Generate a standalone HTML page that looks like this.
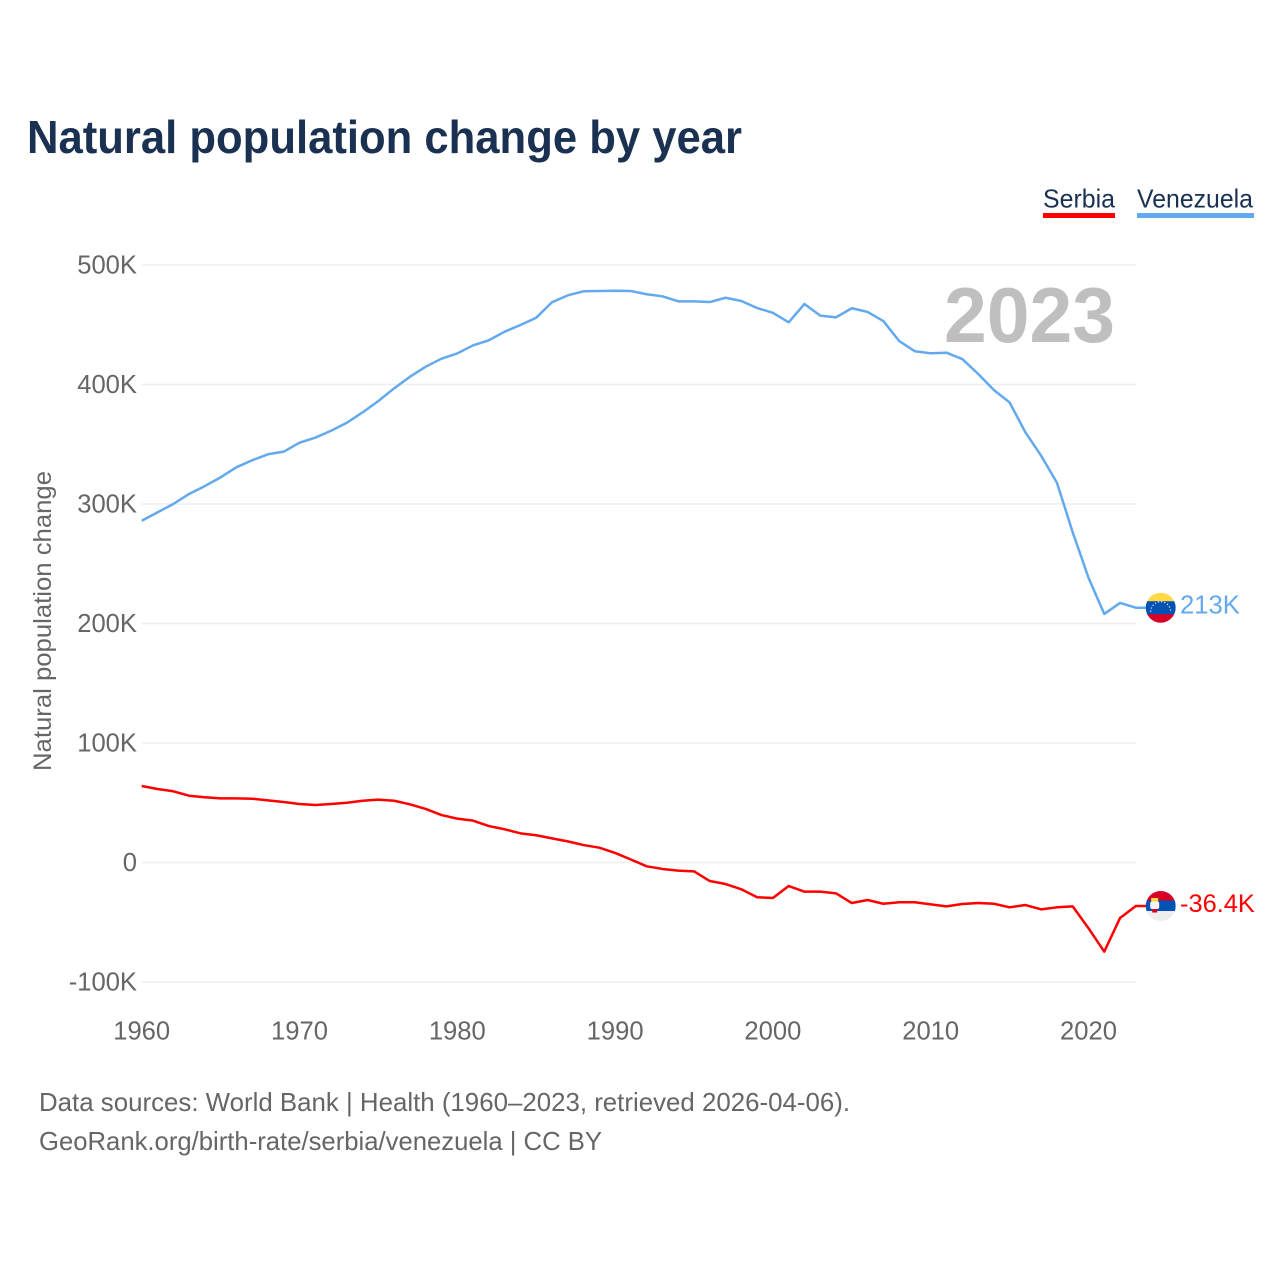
<!DOCTYPE html>
<html lang="en">
<head>
<meta charset="utf-8">
<title>Natural population change by year</title>
<style>
html,body{margin:0;padding:0;background:#fff;}
svg{display:block;font-family:"Liberation Sans",sans-serif;}
</style>
</head>
<body>
<svg id="chart" xmlns="http://www.w3.org/2000/svg" width="1280" height="1280" viewBox="0 0 1280 1280">
  <rect x="0" y="0" width="1280" height="1280" fill="#ffffff"/>
  <text x="27" y="153" font-size="46" font-weight="700" fill="#1a3152" textLength="715" lengthAdjust="spacingAndGlyphs">Natural population change by year</text>
  <g id="grid"></g>
  <g id="yticks"></g>
  <g id="xticks"></g>
  <text transform="translate(51 621) rotate(-90)" text-anchor="middle" font-size="25" fill="#666666" textLength="300" lengthAdjust="spacingAndGlyphs">Natural population change</text>
  <text x="944" y="342" font-size="78" font-weight="700" fill="#bfbfbf" textLength="171" lengthAdjust="spacingAndGlyphs">2023</text>
  <g id="series"></g>

  <g>
    <text x="1043" y="207.5" font-size="26" fill="#1a3152" textLength="72" lengthAdjust="spacingAndGlyphs">Serbia</text>
    <rect x="1043" y="213" width="72" height="5" fill="#ff0000"/>
  </g>
  <g>
    <text x="1137" y="207.5" font-size="26" fill="#1a3152" textLength="116" lengthAdjust="spacingAndGlyphs">Venezuela</text>
    <rect x="1137" y="213" width="117" height="5" fill="#63a9ee"/>
  </g>

  <defs>
    <clipPath id="flag-clip"><circle cx="0" cy="0" r="15"/></clipPath>
  </defs>
  <g id="flag-venezuela">
    <g clip-path="url(#flag-clip)">
      <rect x="-15" y="-15" width="30" height="9" fill="#ffda44"/>
      <rect x="-15" y="-6.5" width="30" height="13.5" fill="#0052b4"/>
      <rect x="-15" y="6.5" width="30" height="9" fill="#d80027"/>
      <path d="M-10 4 A10 10 0 0 1 10 4" fill="none" stroke="#f0f0f0" stroke-width="1.2" stroke-dasharray="1.2 2"/>
    </g>
  </g>
  <text id="label-venezuela" font-size="25.6" fill="#63a9ee"></text>
  <g id="flag-serbia">
    <g clip-path="url(#flag-clip)">
      <rect x="-15" y="-16" width="30" height="11" fill="#d80027"/>
      <rect x="-15" y="-5.5" width="30" height="11" fill="#0052b4"/>
      <rect x="-15" y="5" width="30" height="11" fill="#eeeeee"/>
      <rect x="-9.5" y="-8" width="7" height="3.5" fill="#ffda44"/>
      <rect x="-10.5" y="-4.5" width="9" height="7.5" rx="2" fill="#f5f5f5"/>
      <rect x="-8.5" y="3" width="5" height="3.5" fill="#d80027"/>
    </g>
  </g>
  <text id="label-serbia" font-size="25.4" fill="#ff0000"></text>

  <text x="39" y="1111" font-size="26" fill="#666666" textLength="811" lengthAdjust="spacingAndGlyphs">Data sources: World Bank | Health (1960–2023, retrieved 2026-04-06).</text>
  <text x="39" y="1150" font-size="26" fill="#666666" textLength="563" lengthAdjust="spacingAndGlyphs">GeoRank.org/birth-rate/serbia/venezuela | CC BY</text>
</svg>
<script>
const firstYear = 1960;
const xTickYears = [1960, 1970, 1980, 1990, 2000, 2010, 2020];
const yTickValues = [-100, 0, 100, 200, 300, 400, 500];
const yTickLabels = ['-100K', '0', '100K', '200K', '300K', '400K', '500K'];
const venezuelaValues = [
  286.0, 293.0, 300.0, 308.4, 315.0, 322.3, 330.7, 336.6, 341.6, 343.8,
  351.3, 355.5, 361.3, 368.0, 376.7, 386.2, 396.8, 406.5, 414.9, 421.6,
  426.0, 432.8, 437.0, 444.2, 449.8, 455.9, 468.8, 474.6, 478.0, 478.2,
  478.5, 478.2, 475.5, 473.8, 469.6, 469.6, 469.0, 472.6, 469.9, 464.0,
  460.0, 452.0, 467.4, 457.6, 456.2, 463.8, 460.7, 453.1, 436.4, 427.8,
  426.1, 426.6, 421.3, 409.0, 395.4, 385.0, 360.0, 340.4, 317.8, 276.3,
  238.3, 208.0, 217.2, 213.2
];
const serbiaValues = [
  64.0, 61.5, 59.6, 55.9, 54.6, 53.7, 53.7, 53.4, 52.0, 50.6,
  49.0, 48.1, 49.0, 50.0, 51.7, 52.6, 51.7, 48.7, 44.8, 39.7,
  36.7, 35.0, 30.5, 27.8, 24.4, 22.8, 20.2, 17.7, 14.6, 12.4,
  8.0, 2.5, -3.2, -5.4, -6.8, -7.4, -15.5, -18.0, -22.4, -29.1,
  -29.7, -19.7, -24.4, -24.4, -25.8, -33.9, -31.4, -34.5, -33.3, -33.3,
  -35.0, -36.7, -34.7, -33.9, -34.5, -37.5, -35.6, -39.2, -37.5, -36.7,
  -55.0, -74.6, -46.4, -36.4
];
const venezuelaEndLabel = '213K';
const serbiaEndLabel = '-36.4K';

const NS = 'http://www.w3.org/2000/svg';
const plotLeft = 141.7, pxPerYear = 15.78, zeroY = 862.5, pxPerK = 1.195, plotRight = 1136;
function xScale(year) { return plotLeft + (year - firstYear) * pxPerYear; }
function yScale(value) { return zeroY - value * pxPerK; }
function make(tag) { return document.createElementNS(NS, tag); }

const grid = document.getElementById('grid');
const yticks = document.getElementById('yticks');
yTickValues.forEach(function (v, i) {
  const line = make('line');
  
  
  line.setAttribute('x1', plotLeft);
  line.setAttribute('x2', plotRight);
  line.setAttribute('y1', yScale(v));
  line.setAttribute('y2', yScale(v));
  line.setAttribute('stroke', '#eeeeee');
  line.setAttribute('stroke-width', '1.4');
  grid.appendChild(line);
  const t = make('text');
  
  
  t.setAttribute('x', 137);
  t.setAttribute('y', yScale(v) + 8.5);
  t.setAttribute('text-anchor', 'end');
  t.setAttribute('font-size', '25.6');
  t.setAttribute('fill', '#666666');
  t.textContent = yTickLabels[i];
  yticks.appendChild(t);
});

const xticks = document.getElementById('xticks');
xTickYears.forEach(function (year) {
  const t = make('text');
  
  
  t.setAttribute('x', xScale(year));
  t.setAttribute('y', 1039.5);
  t.setAttribute('text-anchor', 'middle');
  t.setAttribute('font-size', '25.6');
  t.setAttribute('fill', '#666666');
  t.textContent = String(year);
  xticks.appendChild(t);
});

const seriesGroup = document.getElementById('series');
function drawSeries(values, colour, seriesName) {
  const pts = values.map(function (v, i) { return xScale(firstYear + i).toFixed(2) + ',' + yScale(v).toFixed(2); });
  const last = values[values.length - 1];
  pts.push((plotRight + 10) + ',' + yScale(last).toFixed(2));
  const line = make('polyline');
  
  
  line.setAttribute('points', pts.join(' '));
  line.setAttribute('fill', 'none');
  line.setAttribute('stroke', colour);
  line.setAttribute('stroke-width', '2.5');
  line.setAttribute('stroke-linejoin', 'round');
  seriesGroup.appendChild(line);
}
drawSeries(serbiaValues, '#ff0000', 'serbia-line');
drawSeries(venezuelaValues, '#63a9ee', 'venezuela-line');

function placeEnd(flagId, labelId, values, text) {
  const y = yScale(values[values.length - 1]);
  document.getElementById(flagId).setAttribute('transform', 'translate(1160.7 ' + y.toFixed(2) + ')');
  const label = document.getElementById(labelId);
  label.setAttribute('x', 1180);
  label.setAttribute('y', (y + 6).toFixed(2));
  label.textContent = text;
}
placeEnd('flag-venezuela', 'label-venezuela', venezuelaValues, venezuelaEndLabel);
placeEnd('flag-serbia', 'label-serbia', serbiaValues, serbiaEndLabel);
</script>
</body>
</html>
